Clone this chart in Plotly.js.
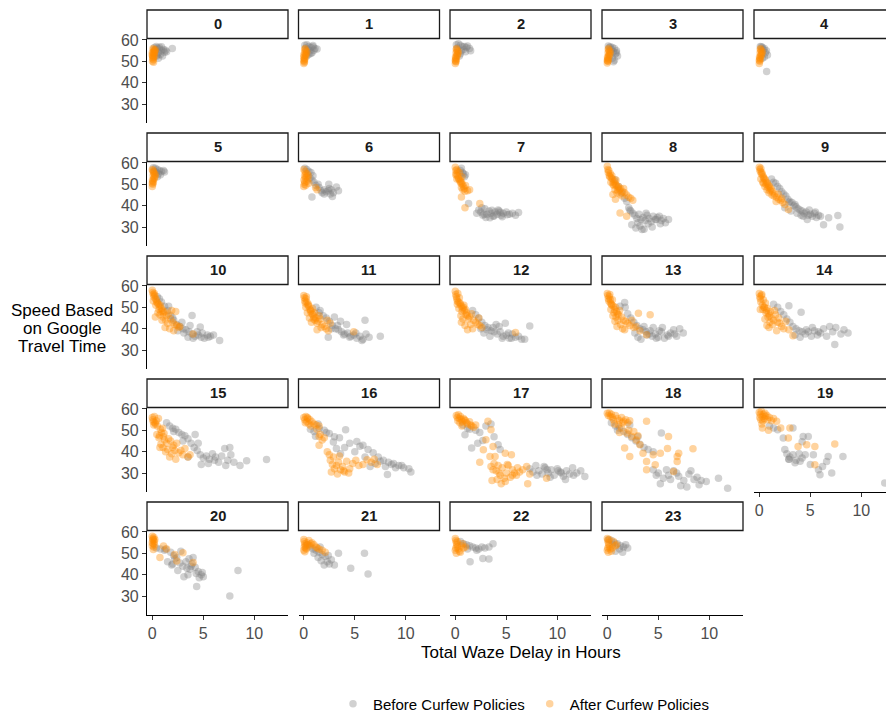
<!DOCTYPE html>
<html><head><meta charset="utf-8">
<script src="https://cdn.plot.ly/plotly-3.0.1.min.js"></script>
<style>html,body{margin:0;padding:0;background:#fff;overflow:hidden;}#chart{width:886px;height:715px;}</style>
</head><body><div id="chart"></div>
<script>
const hourLabels = ['0','1','2','3','4','5','6','7','8','9','10','11','12','13','14','15','16','17','18','19','20','21','22','23'];
const seriesNames = ['Before Curfew Policies','After Curfew Policies'];
const yTicks = [30,40,50,60];
const xTicks = [0,5,10];

// Before curfew (grey): delay in hours, speed
const beforeDelay = [
[0.2,0.4,0.5,0.7,0.9,1.1,1.3,0.6,0.8,0.3,1.0,0.5,0.7,1.2,0.4,1.96,0.9,0.6,1.4],
[0.1,0.3,0.5,0.7,0.9,1.1,0.4,0.6,0.8,0.2,1.0,1.3,0.5,0.7,0.3,0.9],
[0.1,0.3,0.5,0.7,0.9,1.1,1.4,0.6,0.8,0.2,1.0,1.2,0.5,0.4,1.5],
[0.1,0.3,0.5,0.7,0.9,0.4,0.6,0.8,0.2,1.0,0.5,0.7,0.3,0.9,0.6],
[0.1,0.3,0.5,0.7,0.4,0.6,0.2,0.8,0.5,0.3,0.72],
[0.1,0.3,0.5,0.7,0.9,1.1,0.4,0.6,0.2,0.8,1.2,0.5],
[0.1,0.3,0.5,0.7,0.9,0.6,0.8,1.0,1.5,1.7,2.0,2.2,2.4,2.7,2.5,2.0,1.8,2.9,3.2,3.4,0.8,2.8,2.45,1.2,1.4,2.6],
[0.5,0.7,0.8,0.9,0.6,1.0,1.3,2.1,2.3,2.5,2.7,2.9,3.1,3.3,3.5,3.7,3.9,4.1,4.3,4.5,4.7,5.0,5.3,5.6,5.9,6.2,2.6,3.0,3.4,3.8,4.2,4.6,2.8,3.6,4.4,5.1],
[0.75,1.1,1.4,1.7,1.9,2.1,2.3,2.5,2.7,2.9,3.1,3.3,3.5,3.7,3.9,4.1,4.3,4.5,4.7,4.9,5.1,5.3,5.5,5.7,6.0,2.4,2.8,3.2,3.6,4.0,4.4,4.8,5.2,3.0,3.4,2.2,3.8],
[1.2,1.4,1.6,1.8,2.0,2.2,2.4,2.6,2.8,3.0,3.2,3.4,3.6,3.8,4.0,4.2,4.4,4.6,4.8,5.0,5.2,5.4,5.6,5.8,6.0,6.8,6.3,7.7,7.9,2.5,3.1,3.7,4.3,4.9,5.5,2.9,3.5,4.1,4.7],
[0.5,0.7,0.9,1.2,1.5,1.8,2.1,2.4,2.7,3.0,3.3,3.6,3.9,4.2,4.5,4.8,5.1,5.4,5.7,6.0,6.6,2.5,3.1,3.5,4.0,4.4,4.9,3.7,2.9,2.0,1.6,5.5,3.9,4.7],
[1.6,1.9,2.2,2.5,2.8,3.1,3.4,3.7,4.0,4.3,4.6,4.9,5.2,5.5,5.8,6.1,6.4,7.5,6.0,2.7,3.3,3.9,4.5,5.1,5.7,2.4,3.0,3.6,4.2,1.2,1.5],
[1.7,2.0,2.3,2.6,2.9,3.2,3.5,3.8,4.1,4.4,4.7,5.0,5.3,5.6,5.9,6.2,6.5,7.3,2.8,3.4,4.0,4.6,5.2,3.1,3.7,4.3,4.9,5.5,2.5,6.8],
[1.25,1.7,1.75,2.0,2.3,2.6,2.9,3.2,3.5,3.8,4.1,4.4,4.7,5.0,5.3,5.6,5.9,6.2,6.5,6.8,7.1,7.45,3.0,3.6,4.2,4.8,5.4,6.0,6.6,2.7,3.3,3.9,4.5,5.1],
[1.4,1.8,2.1,2.4,2.7,3.0,3.3,3.6,3.9,4.2,4.5,4.8,5.1,5.4,5.7,6.0,6.3,6.6,6.9,7.2,7.5,8.0,8.7,7.4,3.5,4.0,4.6,5.2,5.8,2.9,4.1,8.3],
[1.4,1.7,2.0,2.3,2.6,2.9,3.2,3.5,3.8,4.1,4.4,4.7,5.0,5.3,5.6,5.9,6.2,6.5,6.8,7.1,7.4,7.7,8.0,8.6,9.25,11.2,4.5,2.1,3.0,4.8,5.5,6.1,7.2,3.5,4.2,7.6],
[0.65,1.0,1.5,2.0,2.5,3.0,3.5,4.1,4.5,5.2,5.8,6.3,6.8,7.3,7.8,8.3,8.8,9.3,9.8,10.3,10.5,5.0,5.5,6.0,7.0,7.5,8.0,8.6,9.0,9.6,2.2,2.9,1.4,6.5,4.0,8.2,3.6,3.2,1.15],
[0.75,0.95,1.2,1.6,2.0,2.4,2.7,3.0,3.5,3.8,4.2,4.4,1.4,2.2,7.3,7.6,7.9,8.2,8.5,8.8,9.1,9.4,9.7,10.0,10.3,10.6,10.9,11.2,11.5,11.9,12.3,12.7,8.0,8.7,9.3,10.1,10.8,11.6,9.0,10.4],
[0.4,0.8,1.2,1.6,2.0,2.4,2.8,3.2,3.6,4.0,4.5,5.3,1.0,2.2,3.0,4.5,5.0,5.5,6.0,6.5,7.0,7.5,8.0,8.5,9.0,9.7,10.9,11.8,5.2,6.2,7.2,8.2,9.2,6.8,7.8,8.8,5.8,4.8],
[1.0,1.4,1.8,2.35,3.3,4.3,4.8,4.2,2.7,3.0,3.3,3.6,3.9,4.2,4.5,2.9,3.5,4.0,6.75,8.2,5.95,7.1,5.8,2.9,6.6,5.3,12.3,2.5,5.0,6.2],
[0.4,0.8,1.2,1.5,1.8,2.1,2.4,2.7,3.0,3.3,3.6,3.9,4.2,4.5,4.8,5.0,1.3,1.9,2.5,3.1,3.7,4.3,4.9,2.2,2.8,3.4,4.0,4.6,3.5,4.35,7.6,8.4,2.0,3.8],
[0.3,0.6,0.9,1.2,1.5,1.8,2.1,2.4,2.7,3.0,1.0,1.4,1.7,2.0,2.3,3.4,4.6,5.95,6.3,2.5,1.6],
[0.5,0.8,1.1,1.4,1.7,2.0,2.3,2.6,2.9,3.3,3.7,1.45,2.7,3.3,1.2,2.1],
[0.1,0.4,0.7,1.0,1.3,1.6,2.0,0.8,1.2,1.5,0.5,1.8]
];
const beforeSpeed = [
[56.5,57.0,56.2,55.8,55.0,55.5,55.2,54.0,53.2,55.4,52.5,53.0,56.6,54.2,52.4,56.0,56.8,51.5,54.5],
[57.5,57.8,57.0,56.5,56.8,56.0,55.5,55.0,54.0,56.2,55.2,55.8,53.2,53.8,52.5,57.4],
[57.8,58.2,57.5,56.8,57.0,56.5,56.0,55.0,55.5,56.2,54.5,57.2,53.5,52.5,55.0],
[57.2,56.8,56.5,56.0,55.0,55.5,54.5,53.5,56.5,52.5,51.5,50.5,53.0,54.0,49.8],
[57.0,56.5,56.0,55.0,55.5,54.0,56.8,53.0,52.0,51.5,45.2],
[57.8,57.5,57.0,56.5,56.0,56.5,55.5,55.0,56.0,54.5,55.8,53.5],
[57.5,57.0,56.0,55.5,54.0,53.0,52.0,51.0,48.5,47.0,47.5,46.5,47.0,47.5,48.0,45.5,46.0,46.0,48.8,47.0,44.1,44.3,50.0,49.5,50.0,45.5],
[56.5,55.5,55.0,53.5,57.5,54.5,41.0,36.5,38.0,37.0,35.5,38.5,36.0,37.5,36.5,35.0,37.0,36.0,37.5,35.5,36.5,37.0,36.0,36.5,35.5,36.8,39.0,34.5,34.3,35.2,38.0,34.8,36.0,37.8,36.8,35.8],
[52.2,49.0,46.0,43.5,42.0,39.0,37.5,36.5,35.5,34.0,36.0,33.5,34.5,33.0,35.5,34.0,32.5,35.0,33.5,34.5,35.0,33.0,34.0,32.0,33.5,31.0,29.5,30.5,29.0,31.5,30.0,33.5,31.5,32.0,28.8,38.0,36.5],
[52.5,51.0,50.5,49.0,48.0,46.5,45.5,44.5,43.0,42.0,41.5,40.0,39.5,38.5,38.0,37.5,36.5,37.0,35.5,36.0,35.0,36.5,34.5,35.5,35.0,34.3,31.0,35.4,30.0,39.0,37.5,36.5,35.0,38.0,37.0,41.5,40.5,35.5,33.5],
[55.0,54.0,52.5,50.5,48.5,46.0,44.0,42.0,41.0,40.0,39.5,38.5,37.5,36.5,37.0,36.0,35.5,37.0,36.5,37.0,34.5,39.0,38.0,36.0,35.5,38.5,38.0,41.5,43.0,45.0,50.5,36.0,46.2,40.8],
[48.5,46.0,45.0,43.5,41.5,40.0,39.5,38.5,37.5,38.0,36.5,37.0,35.5,36.5,35.0,37.5,36.0,36.5,44.0,40.0,41.5,37.0,36.0,38.0,34.5,36.0,45.5,43.5,42.0,50.0,47.5],
[48.5,46.5,45.0,43.0,41.5,40.5,39.0,38.5,37.5,38.5,36.5,37.0,35.5,37.5,36.0,36.5,35.0,41.3,38.0,36.5,42.0,35.5,38.0,39.5,40.5,41.0,42.5,35.5,40.0,35.0],
[50.5,52.3,50.0,47.0,45.0,43.0,41.5,40.0,39.5,38.5,37.5,36.5,37.5,36.0,38.5,35.5,37.0,38.0,39.5,36.5,40.0,38.0,36.0,41.0,39.0,35.5,40.5,36.5,37.5,38.0,35.0,37.0,40.5,39.0],
[51.5,50.0,48.0,46.5,44.5,43.0,41.0,40.0,39.0,38.5,37.5,38.5,36.5,39.0,37.0,38.0,40.0,36.5,41.0,38.5,40.5,37.5,38.0,32.6,37.0,36.0,39.5,40.5,38.5,50.8,47.7,39.5],
[53.5,52.0,51.0,50.5,49.0,48.0,47.5,46.0,44.0,42.0,40.5,38.5,37.0,38.0,36.5,39.0,37.5,35.0,38.0,41.5,36.0,38.5,35.0,33.5,35.8,36.3,44.0,49.5,45.0,34.0,34.5,36.0,33.5,37.5,48.0,42.0],
[50.5,49.5,51.0,50.0,48.5,47.0,46.5,50.3,44.0,44.8,43.0,41.0,39.5,37.5,36.0,35.0,34.5,33.5,32.5,32.0,30.5,40.0,42.5,37.5,34.5,35.5,33.0,34.0,32.5,33.5,49.0,44.5,53.0,33.0,42.0,29.3,39.0,41.5,47.2],
[52.5,47.9,51.0,41.7,50.0,49.0,45.2,52.0,53.0,47.0,43.2,41.0,50.5,44.0,32.0,30.5,33.5,31.0,29.5,32.5,30.0,31.5,29.0,32.0,30.5,28.5,31.0,29.5,32.5,30.0,31.0,28.4,29.0,33.0,28.0,31.0,27.0,29.0,31.5,30.0],
[53.5,52.0,51.0,49.5,48.0,46.5,45.0,43.5,42.0,41.0,40.0,48.7,50.0,52.5,47.0,31.5,30.0,27.5,29.0,31.0,28.5,26.5,29.5,27.0,24.5,26.0,27.6,22.9,25.0,27.0,24.0,31.0,26.5,30.0,23.5,28.0,31.5,29.0],
[52.0,51.1,50.3,46.4,51.1,47.1,47.1,44.7,39.0,37.5,38.5,36.0,39.0,37.0,38.5,36.5,34.8,35.5,37.7,37.7,29.2,30.0,31.5,36.5,35.4,38.5,25.3,41.0,34.0,33.0],
[52.5,52.0,51.5,46.0,50.5,49.0,48.0,45.5,44.0,46.0,47.5,45.0,43.5,41.5,40.0,39.0,52.0,44.5,42.0,39.0,42.5,40.5,41.0,47.5,51.0,43.0,48.0,38.5,40.0,34.4,30.0,42.0,45.0,44.0],
[54.0,53.0,52.0,51.5,50.5,49.5,48.5,49.0,47.0,44.5,50.0,48.0,46.5,44.5,46.0,50.0,43.0,50.0,40.3,45.0,53.0],
[55.5,54.5,54.0,53.5,53.0,52.5,52.0,53.0,52.5,53.0,54.5,46.0,47.6,47.4,52.0,51.5],
[56.5,56.0,55.0,54.5,53.5,53.0,52.5,51.0,52.0,50.5,54.0,54.0]
];

// After curfew (orange)
const afterDelay = [
[0.02,0.05,0.1,0.0,0.15,0.08,0.2,0.12,0.03,0.25,0.1,0.05,0.18,0.3,0.07,0.22,0.0,0.12],
[0.0,0.05,0.1,0.02,0.15,0.08,0.2,0.12,0.0,0.25,0.05,0.1,0.18,0.3,0.06,0.0],
[0.0,0.05,0.1,0.02,0.15,0.08,0.2,0.12,0.0,0.25,0.05,0.1,0.18,0.3,0.06],
[0.0,0.05,0.1,0.02,0.15,0.08,0.2,0.12,0.0,0.25,0.05,0.1,0.18,0.3,0.06],
[0.0,0.05,0.1,0.02,0.15,0.08,0.2,0.12,0.0,0.25,0.05,0.1,0.18,0.3],
[0.0,0.05,0.1,0.02,0.15,0.08,0.2,0.12,0.0,0.25,0.05,0.1,0.18,0.3,0.06,0.0],
[0.0,0.05,0.1,0.02,0.15,0.08,0.2,0.12,0.0,0.25,0.3,0.4,0.5,0.35,1.15,1.3,0.2,0.45],
[0.0,0.05,0.1,0.15,0.2,0.3,0.4,0.5,0.6,0.7,0.8,0.9,1.0,1.2,1.4,0.25,0.35,0.55,0.65,0.15,0.05,0.75,0.45,0.6,0.95,0.6,0.95,2.4],
[0.0,0.05,0.1,0.15,0.2,0.3,0.4,0.5,0.6,0.7,0.8,0.9,1.0,1.1,1.2,1.3,1.5,1.7,1.9,2.1,2.3,2.5,0.25,0.45,0.65,0.85,1.05,1.25,1.45,0.35,0.55,0.75,0.95,1.6,1.25,1.9,0.55,0.8],
[0.0,0.05,0.1,0.15,0.2,0.3,0.4,0.5,0.6,0.7,0.8,0.9,1.0,1.1,1.2,1.3,1.5,1.7,1.9,2.1,2.3,2.5,0.25,0.45,0.65,0.85,1.05,1.25,1.45,0.35,0.55,0.75,0.95,1.65,1.85,2.2,2.85,0.15,0.4],
[0.0,0.05,0.1,0.15,0.2,0.3,0.4,0.5,0.6,0.7,0.8,0.9,1.0,1.1,1.2,1.4,1.6,1.8,2.0,2.2,2.4,2.6,0.25,0.45,0.65,0.85,1.05,1.3,1.5,0.35,0.55,0.75,0.95,1.7,1.9,2.3,2.7,4.0,0.1,0.3,1.25,2.1],
[0.0,0.05,0.1,0.15,0.2,0.3,0.4,0.5,0.6,0.7,0.8,0.9,1.0,1.1,1.2,1.4,1.6,1.8,2.0,2.2,2.4,2.6,0.25,0.45,0.65,0.85,1.05,1.3,1.5,0.35,0.55,0.75,0.95,1.7,4.9,0.2,1.3,2.3],
[0.0,0.05,0.1,0.15,0.2,0.3,0.4,0.5,0.6,0.7,0.8,0.9,1.0,1.1,1.2,1.4,1.6,1.8,2.0,2.2,2.4,2.6,0.25,0.45,0.65,0.85,1.05,1.3,1.5,0.35,0.55,0.75,0.95,1.7,5.9,0.2,1.2,2.3,0.6],
[0.0,0.05,0.1,0.15,0.2,0.3,0.4,0.5,0.6,0.7,0.8,0.9,1.0,1.1,1.2,1.4,1.6,1.8,2.0,2.2,2.4,2.6,0.25,0.45,0.65,0.85,1.05,1.3,1.5,0.35,0.55,0.75,0.95,1.7,4.2,3.05,3.85,3.2,2.8,0.3],
[0.0,0.05,0.1,0.15,0.2,0.3,0.4,0.5,0.6,0.7,0.8,0.9,1.0,1.1,1.2,1.4,1.6,1.8,2.0,2.2,2.4,2.6,0.25,0.45,0.65,0.85,1.05,1.3,1.5,0.35,0.55,0.75,0.95,1.7,3.3,2.9,0.1,1.9],
[0.0,0.05,0.1,0.2,0.3,0.4,0.5,0.6,0.7,0.8,0.9,1.0,1.1,1.2,1.4,1.6,1.8,2.0,2.2,2.4,2.6,2.8,3.0,3.2,3.5,3.7,0.25,0.45,0.65,0.85,1.05,1.3,1.5,1.9,2.3,0.15,0.75,1.15,1.7,2.1],
[0.0,0.1,0.2,0.3,0.4,0.5,0.6,0.8,1.0,1.2,1.5,0.15,0.35,1.6,1.5,1.5,1.8,2.0,2.3,2.5,2.6,2.8,3.0,3.2,3.4,3.6,3.8,4.0,4.2,4.5,4.8,5.1,5.4,5.8,6.2,6.6,6.9,7.2,2.7,3.3,3.9,2.9,3.5,4.4,1.3,0.7],
[0.1,0.2,0.3,0.4,0.5,0.6,0.7,0.8,1.0,1.2,1.4,1.6,1.8,2.0,0.25,0.45,0.65,0.9,1.1,1.5,3.2,3.5,3.0,3.7,2.75,3.4,3.9,4.9,5.5,2.4,3.5,3.8,4.0,4.2,4.4,4.6,4.8,5.0,5.2,5.4,5.6,5.8,6.0,6.3,6.6,7.0,7.3,3.6,4.1,4.5,5.1,5.6,6.1,8.95,7.1,4.3,4.9,3.7],
[0.0,0.1,0.2,0.3,0.4,0.5,0.6,0.8,1.0,1.2,1.4,1.6,1.8,2.0,2.2,0.7,1.1,1.5,3.85,1.4,1.9,2.4,2.85,3.2,1.7,2.2,3.5,4.5,5.2,6.0,5.9,7.0,6.85,8.4,3.85,4.7,3.85,6.5,6.85,2.6,3.0,2.1,1.2],
[0.0,0.1,0.2,0.3,0.4,0.5,0.6,0.8,1.0,1.2,1.4,1.7,0.15,0.35,0.55,0.75,0.3,3.0,2.85,4.65,5.45,7.4,3.8,5.45,0.9,2.1,0.05,0.25],
[0.0,0.05,0.1,0.15,0.2,0.0,0.1,0.05,0.2,0.15,0.1,0.75,1.1,2.2,3.0,2.4,4.0,1.4,0.0,0.25],
[0.0,0.05,0.1,0.15,0.2,0.3,0.4,0.5,0.6,0.8,1.0,1.2,1.5,1.8,2.1,0.0,0.1,0.25,0.7,1.3,0.05],
[0.0,0.05,0.1,0.15,0.2,0.3,0.4,0.5,0.6,0.8,1.0,0.0,0.1,0.2,0.05,0.7],
[0.0,0.05,0.1,0.15,0.2,0.3,0.4,0.5,0.6,0.8,0.9,0.0,0.1,0.2,0.05]
];
const afterSpeed = [
[50.0,51.2,52.0,53.0,53.5,54.2,55.0,55.6,52.6,54.6,50.8,51.8,53.8,55.4,56.0,52.4,54.0,49.6],
[49.0,50.0,51.0,52.0,53.0,54.0,55.0,56.0,50.5,53.5,51.5,55.5,52.5,54.5,49.6,53.0],
[49.0,50.0,51.0,52.0,53.0,54.0,55.0,56.0,50.5,53.5,51.5,55.5,52.5,54.5,49.8],
[49.2,50.0,51.0,52.0,53.0,54.0,55.0,56.0,50.5,53.5,51.5,55.5,52.5,54.5,50.2],
[49.0,50.0,51.0,52.0,53.0,54.0,55.0,56.0,50.5,53.5,51.5,55.5,52.5,54.5],
[49.0,50.0,51.0,52.0,53.0,54.0,55.0,56.0,57.0,53.5,51.5,55.5,52.5,54.5,56.6,50.5],
[49.0,50.0,51.0,52.0,53.0,54.0,55.0,56.0,57.0,53.5,51.5,52.5,50.5,55.0,48.5,47.5,49.6,54.0],
[58.0,56.5,55.0,57.0,54.0,53.0,55.5,52.0,51.0,50.0,49.0,48.0,49.5,47.0,47.5,56.0,52.5,50.5,53.5,52.5,54.5,47.5,51.5,48.5,46.8,44.1,39.0,41.0],
[58.5,57.0,55.5,56.5,54.0,55.0,53.0,52.5,51.0,51.5,50.0,49.5,48.5,49.0,47.5,48.0,46.5,46.0,45.0,44.0,43.5,42.5,53.5,54.0,49.5,52.0,47.0,45.5,44.5,51.0,50.0,47.5,46.0,48.0,36.6,35.0,45.2,43.0],
[58.0,57.0,56.0,57.5,55.0,54.5,53.5,52.5,52.0,51.0,50.5,49.5,49.0,48.0,47.5,46.5,45.5,44.0,43.0,42.5,41.5,40.5,55.5,53.0,50.0,48.5,47.0,45.0,44.5,51.0,49.0,47.5,46.0,42.0,45.5,43.5,38.2,52.5,50.5],
[58.0,57.0,56.0,55.0,56.5,54.0,53.5,52.0,51.5,50.5,51.0,49.5,48.5,47.5,48.0,46.0,47.0,44.5,43.0,42.0,41.5,40.5,55.5,52.5,49.0,48.0,45.5,44.0,42.5,51.0,47.5,46.5,44.0,40.0,48.5,48.0,41.0,37.5,53.0,45.5,40.5,39.0],
[55.5,54.5,53.0,52.0,54.0,52.5,51.0,50.5,49.0,48.5,47.0,46.5,45.5,44.0,45.0,43.5,44.5,42.0,41.0,40.0,39.0,42.5,55.0,51.5,48.0,49.5,47.5,42.5,46.0,47.5,45.0,43.0,44.5,40.5,38.5,50.0,39.5,44.0],
[57.5,56.0,55.0,54.0,53.0,52.5,54.5,51.5,50.5,49.5,50.0,48.5,49.0,47.5,46.0,45.5,47.0,44.0,43.0,42.0,41.5,40.5,56.5,52.0,48.0,51.0,46.5,44.5,42.0,49.5,46.0,44.5,41.5,40.0,38.2,51.5,39.5,45.0,43.0],
[56.5,55.5,54.0,53.0,55.0,52.0,51.5,53.5,50.5,49.0,50.0,48.0,47.0,46.5,48.5,45.5,44.0,43.5,42.5,41.5,44.0,40.5,56.0,51.0,47.5,45.5,44.0,42.0,40.0,49.0,46.0,43.5,41.0,39.5,46.5,47.2,37.2,39.0,41.0,53.5],
[56.5,55.0,54.0,52.5,55.5,51.0,53.5,50.0,52.0,48.5,49.5,47.0,46.0,48.0,45.0,44.0,46.5,43.0,42.5,41.0,40.0,43.5,56.0,50.0,47.5,45.5,43.0,42.0,48.5,49.0,44.5,41.5,40.5,39.0,36.7,39.5,49.0,45.0],
[56.0,55.0,54.0,56.5,53.0,54.5,52.0,55.5,47.5,50.5,49.0,51.0,47.0,45.5,44.0,46.0,45.0,42.0,40.5,44.0,39.5,40.5,38.5,41.5,37.5,38.5,53.5,48.0,46.5,43.5,42.0,40.0,41.0,39.0,36.5,52.5,42.0,48.5,37.5,43.0],
[56.0,55.0,56.5,54.0,55.5,53.0,55.0,54.0,53.0,52.5,52.0,53.5,56.0,48.0,47.1,43.0,45.5,46.5,40.0,38.5,36.0,34.0,32.0,33.5,35.0,31.5,33.0,30.5,35.5,32.0,34.5,36.0,33.5,34.0,36.2,35.0,36.5,34.0,30.5,29.5,31.0,37.5,38.0,30.0,50.5,52.0],
[57.0,56.0,57.3,55.5,56.5,55.0,54.0,55.5,54.5,53.0,54.0,52.0,51.5,52.5,54.5,53.5,52.0,55.0,53.5,52.5,54.2,50.3,45.6,42.4,40.9,37.7,37.7,39.3,38.5,35.1,33.0,34.5,31.0,33.5,29.0,32.5,27.5,30.0,33.5,28.0,31.5,30.0,29.0,30.5,31.5,33.0,29.5,26.5,27.0,25.0,34.0,29.0,32.5,27.6,25.0,30.0,26.0,31.5],
[58.0,57.0,58.1,56.5,57.5,56.0,55.0,57.0,55.5,54.5,56.0,54.2,55.0,53.5,54.5,53.0,52.5,53.5,54.2,51.1,48.8,47.1,45.5,43.2,41.7,37.7,39.3,38.5,39.3,47.1,41.5,39.3,37.7,41.4,35.4,33.9,31.5,30.7,35.4,49.5,47.5,50.0,49.0],
[58.5,57.5,58.9,56.5,57.5,55.5,56.5,55.0,56.0,54.5,55.5,54.2,55.0,54.5,58.0,57.0,51.1,51.1,46.4,43.2,42.4,43.6,42.4,33.9,50.0,51.1,56.0,53.0],
[58.0,57.0,56.5,57.5,55.5,55.0,54.5,56.0,54.0,53.0,51.8,48.0,53.4,49.5,50.3,46.4,45.7,52.0,53.5,56.5],
[56.5,55.5,54.5,53.5,52.5,55.0,54.0,56.0,53.5,55.0,54.0,53.0,52.0,51.5,50.5,51.5,50.8,52.0,54.5,52.5,53.0],
[57.0,56.0,55.0,54.0,53.0,52.0,51.0,50.5,53.5,52.5,53.0,51.5,50.0,55.5,52.5,54.5],
[57.0,56.0,55.0,54.0,53.0,52.0,51.0,52.5,55.5,53.5,54.0,51.5,50.5,56.5,52.5]
];

const W = 886, H = 715;
const FONT = '"Liberation Sans", Arial, Helvetica, sans-serif';
const colLeft = [147, 298.5, 450, 602, 754], panelW = 141;
const stripTop = [10, 133, 256, 379, 502], stripH = 28.5, panelH = 84.5;
const pxPerX = 10.2, xMin = -0.52, yRange = [21.1, 60.7];
const fx = v => v / W, fy = v => 1 - v / H;

const traces = [], shapes = [], annotations = [];
const layout = {
  width: W, height: H, margin: {l: 0, r: 0, t: 0, b: 0, autoexpand: false},
  paper_bgcolor: '#fff', plot_bgcolor: 'rgba(0,0,0,0)',
  font: {family: FONT, color: '#000'},
  showlegend: true,
  legend: {orientation: 'h', xref: 'container', yref: 'container', x: fx(333), y: fy(704),
    xanchor: 'left', yanchor: 'middle',
    font: {size: 15, color: '#000', family: FONT}, bgcolor: 'rgba(0,0,0,0)', itemclick: false},
  hovermode: false
};

hourLabels.forEach((lab, h) => {
  const r = Math.floor(h / 5), c = h % 5, i = h + 1;
  const left = colLeft[c], right = Math.min(W, left + panelW);
  const top = stripTop[r] + stripH, bottom = top + panelH;
  const sfx = i === 1 ? '' : String(i);
  const showY = c === 0, showX = h >= 19;
  layout['xaxis' + sfx] = {
    domain: [fx(left), fx(right)], range: [xMin, xMin + (right - left) / pxPerX],
    anchor: 'y' + sfx, showgrid: false, zeroline: false,
    showline: showX, linecolor: '#000', linewidth: 1.1,
    ticks: showX ? 'outside' : '', ticklen: 4, tickwidth: 1.1, tickcolor: '#333',
    tickvals: xTicks, showticklabels: showX,
    tickfont: {size: 16, color: '#4d4d4d', family: FONT}, fixedrange: true
  };
  layout['yaxis' + sfx] = {
    domain: [fy(bottom), fy(top)], range: yRange,
    anchor: 'x' + sfx, showgrid: false, zeroline: false,
    showline: showY, linecolor: '#000', linewidth: 1.1,
    ticks: showY ? 'outside' : '', ticklen: 4, tickwidth: 1.1, tickcolor: '#333',
    tickvals: yTicks, showticklabels: showY,
    tickfont: {size: 16, color: '#4d4d4d', family: FONT}, fixedrange: true
  };
  traces.push({
    type: 'scatter', mode: 'markers', x: beforeDelay[h], y: beforeSpeed[h],
    xaxis: 'x' + sfx, yaxis: 'y' + sfx, name: seriesNames[0], legendgroup: 'before',
    showlegend: h === 0,
    marker: {color: '#7f7f7f', size: 7.5, opacity: 0.36, line: {width: 0}}
  });
  traces.push({
    type: 'scatter', mode: 'markers', x: afterDelay[h], y: afterSpeed[h],
    xaxis: 'x' + sfx, yaxis: 'y' + sfx, name: seriesNames[1], legendgroup: 'after',
    showlegend: h === 0,
    marker: {color: '#ff8c00', size: 7.5, opacity: 0.38, line: {width: 0}}
  });
  shapes.push({type: 'rect', xref: 'paper', yref: 'paper',
    x0: fx(left), x1: fx(left + panelW), y0: fy(top), y1: fy(stripTop[r]),
    line: {color: '#1a1a1a', width: 1.3}, fillcolor: '#fff', layer: 'above'});
  annotations.push({xref: 'paper', yref: 'paper', x: fx(left + panelW / 2), y: fy(stripTop[r] + stripH / 2),
    text: '<b>' + lab + '</b>', showarrow: false, xanchor: 'center', yanchor: 'middle',
    font: {size: 14.7, color: '#1a1a1a', family: FONT}});
});

annotations.push({xref: 'paper', yref: 'paper', x: fx(521), y: fy(652), text: 'Total Waze Delay in Hours',
  showarrow: false, xanchor: 'center', yanchor: 'middle', font: {size: 17, color: '#000', family: FONT}});
['Speed Based', 'on Google', 'Travel Time'].forEach((t, k) => {
  annotations.push({xref: 'paper', yref: 'paper', x: fx(62), y: fy(310 + k * 18.4), text: t,
    showarrow: false, xanchor: 'center', yanchor: 'middle', font: {size: 17, color: '#000', family: FONT}});
});

layout.shapes = shapes;
layout.annotations = annotations;
Plotly.newPlot('chart', traces, layout, {displayModeBar: false, responsive: false});
</script>
</body></html>
